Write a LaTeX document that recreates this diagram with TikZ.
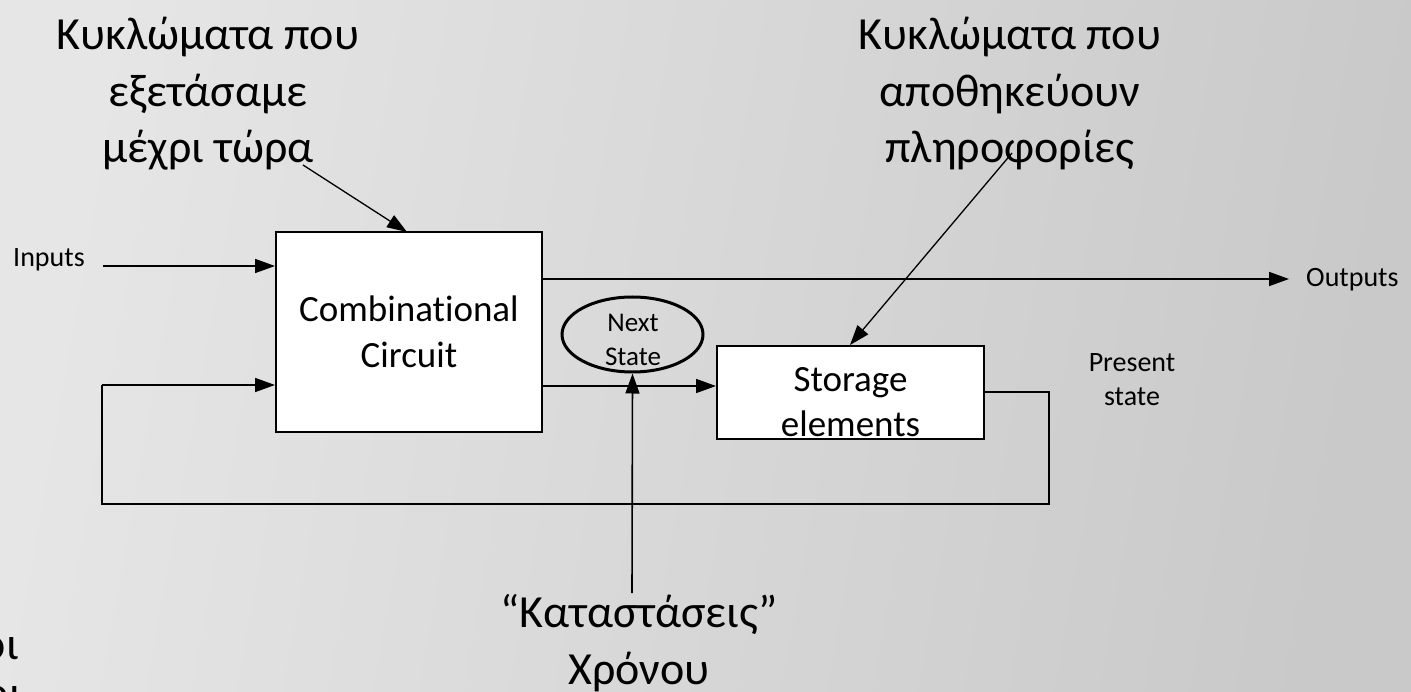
\documentclass[tikz,border=0pt]{standalone}
\usepackage{fontspec}
\setmainfont[Ligatures=NoCommon]{Carlito}
\usetikzlibrary{arrows.meta,shapes.geometric}
\definecolor{bgleft}{HTML}{E6E6E6}
\definecolor{bgright}{HTML}{C9C9C9}
\tikzset{
  block/.style={draw=black, line width=2pt, fill=white, rectangle, inner sep=0pt},
  wire/.style={line width=1.6pt},
  flow/.style={wire, -{Triangle[length=20pt,width=14pt]}},
  bigtext/.style={font=\fontsize{46}{56.5}\selectfont, align=center, inner sep=0pt},
  boxtext/.style={font=\fontsize{37}{45.5}\selectfont, align=center, inner sep=0pt},
  smalltext/.style={font=\fontsize{28}{34}\selectfont, align=center, inner sep=0pt},
}
\begin{document}
\begin{tikzpicture}[x=1pt,y=-1pt]
  % page and background
  \useasboundingbox (0,0) rectangle (1411,692);
  \clip (0,0) rectangle (1411,692);
  \shade[left color=bgleft, right color=bgright, shading angle=80] (0,0) rectangle (1411,692);

  % main blocks
  \node[block, minimum width=266pt, minimum height=200pt, boxtext] (comb) at (409,332) {Combinational\\Circuit};
  \node[block, minimum width=267pt, minimum height=93pt] (store) at (850.5,392.5) {};
  \node[boxtext] (storetext) at (850.5,402) {Storage\\elements};
  \node[draw=black, line width=3pt, ellipse, minimum width=141pt, minimum height=75pt, inner sep=0pt] (next) at (632.5,334.5) {};
  \node[smalltext, font=\fontsize{27}{34}\selectfont] (nexttext) at (633,340) {Next\\State};

  % side labels
  \node[smalltext] (inputs) at (49,260) {Inputs};
  \node[smalltext, anchor=west] (outputs) at (1306,280) {Outputs};
  \node[smalltext] (present) at (1132,380) {Present\\state};

  % annotations
  \node[bigtext] (combnoteT) at (208,94) {Κυκλώματα που\\εξετάσαμε\\μέχρι τώρα};
  \node[bigtext] (storenoteT) at (1010,94) {Κυκλώματα που\\αποθηκεύουν\\πληροφορίες};
  \node[bigtext] (timenote) at (639,643) {“Καταστάσεις”\\Χρόνου};
  \node[bigtext, anchor=east] (edgeA) at (19,649) {οι};
  \node[bigtext, anchor=east] (edgeB) at (22,698) {οι};

  % connector end points
  \coordinate (inA) at (103,266);
  \coordinate (outB) at (1289,279);
  \coordinate (loopR) at (1049,392);
  \coordinate (loopRB) at (1049,504);
  \coordinate (loopLB) at (102,504);
  \coordinate (loopL) at (102,385);
  \coordinate (clk) at (632,593);
  \coordinate (combnoteA) at (303,165);
  \coordinate (combnoteB) at (407,232);
  \coordinate (storenoteA) at (1012,153);
  \coordinate (storenoteB) at (850,345);

  % signal flow
  \draw[flow] (inA) -- (comb.west |- inA);
  \draw[flow] (comb.east |- outB) -- (outB);
  \draw[flow] (comb.east |- 0,386) -- (store.west |- 0,386);
  \draw[wire] (store.east |- loopR) -- (loopR) -- (loopRB) -- (loopLB) -- (loopL);
  \draw[flow] (loopL) -- (comb.west |- loopL);
  \draw[flow] (clk) -- (next.south);
  \draw[flow, line width=1.3pt] (combnoteA) -- (combnoteB);
  \draw[flow, line width=1.3pt] (storenoteA) -- (storenoteB);
\end{tikzpicture}
\end{document}
